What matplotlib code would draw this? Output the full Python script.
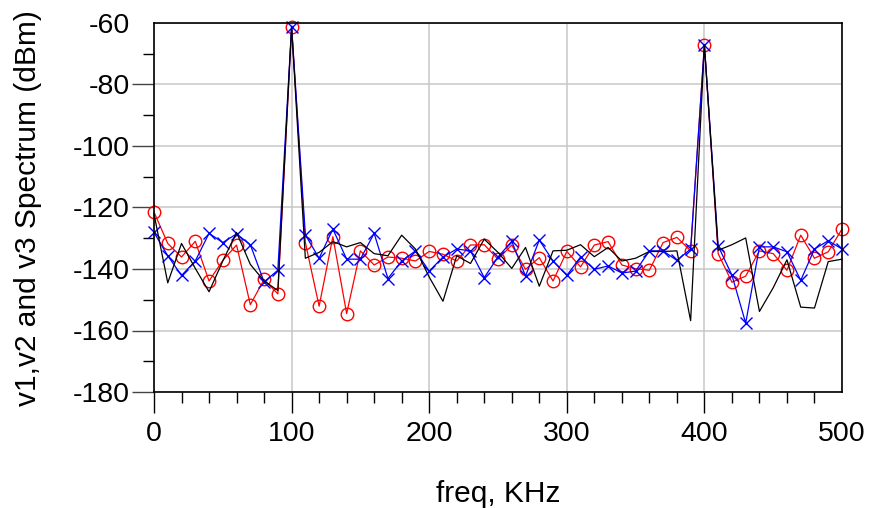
import numpy as np
import matplotlib
matplotlib.use('Agg')
import matplotlib.pyplot as plt
from matplotlib.ticker import MultipleLocator

plt.rcParams['font.family'] = ['Liberation Sans', 'DejaVu Sans']
plt.rcParams['axes.unicode_minus'] = False

# frequency grid, KHz
freq = np.arange(0, 510, 10)

# v1 (black line)
v1 = [-122.1, -144.5, -131.7, -139.8, -147.4, -137.4, -128.1, -138.5, -143.9, -147.0,
      -61.3, -136.5, -134.6, -131.1, -132.8, -131.4, -135.0, -135.7, -129.0, -133.5,
      -142.6, -150.5, -135.7, -138.2, -130.3, -134.6, -139.8, -133.0, -145.6, -134.1,
      -133.9, -132.1, -136.0, -133.0, -137.4, -136.5, -134.3, -134.3, -134.1, -156.8,
      -67.2, -133.9, -132.1, -129.9, -153.8, -146.1, -137.0, -152.4, -152.7, -137.6,
      -136.8]

# v2 (red circles)
v2 = [-121.5, -131.7, -136.1, -131.0, -143.9, -137.2, -132.2, -151.6, -143.4, -148.1,
      -61.3, -131.4, -152.1, -129.5, -154.5, -134.1, -138.7, -136.1, -136.5, -137.4,
      -134.3, -135.2, -137.4, -132.2, -132.1, -136.8, -132.2, -140.1, -136.3, -143.9,
      -134.3, -139.3, -132.2, -131.1, -138.7, -139.9, -140.4, -131.4, -129.7, -134.1,
      -67.2, -135.0, -144.3, -142.3, -134.1, -135.0, -140.4, -129.0, -136.5, -134.4,
      -127.0]

# v3 (blue crosses)
v3 = [-128.1, -135.7, -142.1, -137.4, -128.4, -131.4, -128.6, -132.1, -144.2, -140.4,
      -61.3, -128.9, -136.5, -127.0, -136.8, -136.8, -128.4, -143.1, -137.4, -134.1,
      -140.7, -136.1, -133.5, -134.1, -142.8, -136.1, -131.0, -142.3, -130.6, -137.4,
      -142.1, -136.1, -140.1, -139.0, -141.3, -140.7, -134.1, -134.1, -137.2, -133.5,
      -67.2, -132.5, -142.0, -157.6, -132.8, -132.8, -134.4, -143.7, -133.5, -130.8,
      -133.5]

fig = plt.figure(figsize=(8.72, 5.08), dpi=100)
ax = fig.add_axes([154 / 872, 1 - 392 / 508, 688 / 872, 369 / 508])

ax.plot(freq, v2, color='red', lw=0.9, marker='o', ms=9, mfc='none', mew=1.0, clip_on=False)
ax.plot(freq, v3, color='blue', lw=0.9, marker='x', ms=9, mew=1.0, clip_on=False)
ax.plot(freq, v1, color='black', lw=0.9, clip_on=False)

ax.set_xlim(0, 500)
ax.set_ylim(-180, -60)
ax.set_xticks([0, 100, 200, 300, 400, 500])
ax.set_yticks([-180, -160, -140, -120, -100, -80, -60])
ax.xaxis.set_minor_locator(MultipleLocator(20))
ax.yaxis.set_minor_locator(MultipleLocator(10))

ax.grid(True, which='major', color='#c8c8c8', lw=1.1)
ax.set_axisbelow(True)

ax.tick_params(axis='x', which='major', direction='out', length=15, width=1, pad=6, labelsize=20.5)
ax.tick_params(axis='x', which='minor', direction='out', length=8, width=1)
ax.tick_params(axis='y', which='major', direction='out', length=16, width=1, pad=1.5,
               labelsize=20.5, color='#444444')
ax.tick_params(axis='y', which='minor', direction='out', length=8, width=1)

# no tick mark at the top label or under the last x label
ax.yaxis.get_major_ticks()[-1].tick1line.set_visible(False)
ax.xaxis.get_major_ticks()[-1].tick1line.set_visible(False)

for s in ax.spines.values():
    s.set_linewidth(1.2)

fig.text(28 / 872, 1 - 208 / 508, 'v1,v2 and v3 Spectrum (dBm)', rotation=90,
         ha='center', va='center', fontsize=21.5)
fig.text(498 / 872, 1 - 502 / 508, 'freq, KHz', ha='center', va='baseline', fontsize=21.5)

fig.savefig('out.png', dpi=100)
